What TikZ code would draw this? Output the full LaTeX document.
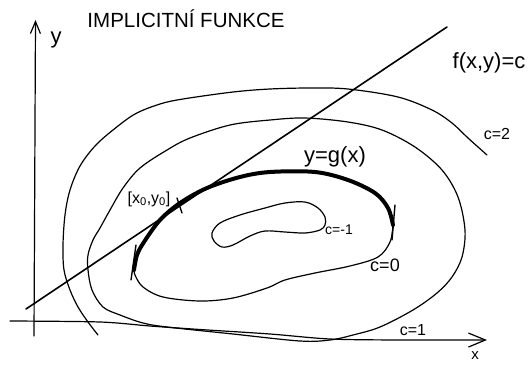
\documentclass[tikz,border=0pt]{standalone}
\usepackage{fontspec}
\setmainfont{Liberation Sans}
\usetikzlibrary{arrows.meta}
\begin{document}
\begin{tikzpicture}[x=1pt,y=-1pt,
  thinline/.style={line width=1.2pt, line cap=round, line join=round},
  midline/.style={line width=1.6pt, line cap=round},
  thickline/.style={line width=4pt, line cap=round, line join=round},
  tickline/.style={line width=1.4pt, line cap=round},
  lbl/.style={inner sep=0pt, anchor=center}]
\useasboundingbox[fill=white] (0,0) rectangle (531,365);

% axes
\coordinate (ybot) at (34,336);
\coordinate (ytop) at (35.5,20);
\draw[thinline,-{Straight Barb[length=12pt,width=10pt,line width=1.2pt]}] (ybot) -- (ytop);
\draw[thinline,-{Straight Barb[length=17pt,width=14pt,line width=1.2pt]}]
  plot[smooth,tension=0.5] coordinates {(10,321) (100,322) (150,326) (200,329.5) (270,334) (330,339) (400,340) (487,340)};

% c = 2 (outer, open)
\draw[thinline] plot[smooth,tension=0.55] coordinates {(98,335) (88,322) (78,307) (70,290) (64,270) (63,245) (65,215) (70,190) (80,166) (95,146) (113,130) (135,114) (160,104) (183,99) (233,92) (270,89) (310,88) (348,89) (398,97) (432,110) (452,123) (468,138) (487,155)};

% c = 1
\draw[thinline] plot[smooth cycle,tension=0.55] coordinates {(143,323) (120,315) (103,307) (92,290) (88,270) (88,255) (93,240) (100,228) (110,210) (123,188) (140,168) (167,150) (190,138) (230,125) (270,120) (305,118) (348,122) (382,130) (415,147) (442,170) (458,197) (465,230) (462,257) (452,277) (437,293) (413,310) (380,327) (353,335) (330,340) (300,341) (233,334) (167,327)};

% c = 0 (thin lower part)
\draw[thinline] plot[smooth,tension=0.55] coordinates {(393,225) (390,242) (378,257) (350,266) (315,273) (285,280) (267,288) (233,298) (200,301) (163,297) (143,287) (135,275) (134,268)};
% y = g(x) (thick upper part)
\draw[thickline] plot[smooth,tension=0.55] coordinates {(134,270) (137,255) (144,242) (160,220) (180,203) (207,188) (240,177) (270,172) (315,172) (348,180) (375,193) (388,208) (393,225)};

% c = -1
\draw[thinline] plot[smooth cycle,tension=0.55] coordinates {(212,233) (220,223) (240,215) (265,208) (285,203) (305,202) (318,208) (325,217) (325,225) (320,230) (305,233) (285,232) (265,231) (250,236) (233,245) (222,247) (214,241)};

% tangent line
\coordinate (t1) at (26,309);
\coordinate (t2) at (447,27);
\draw[midline] (t1) -- (t2);

% tick marks
\coordinate (ka1) at (136,245); \coordinate (ka2) at (131,280);
\coordinate (kb1) at (395,205); \coordinate (kb2) at (392,240);
\coordinate (kc1) at (177,198); \coordinate (kc2) at (182,213);
\draw[tickline] (ka1) -- (ka2);
\draw[tickline] (kb1) -- (kb2);
\draw[tickline] (kc1) -- (kc2);

% labels
\node[lbl, font=\fontsize{20.5}{22}\selectfont] (title) at (186,19) {IMPLICITNÍ FUNKCE};
\node[lbl, font=\fontsize{22}{24}\selectfont] (ylab) at (56,40) {y};
\node[lbl, font=\fontsize{15}{17}\selectfont] (xlab) at (475,356) {x};
\node[lbl, font=\fontsize{22}{24}\selectfont] (flab) at (489,63) {f(x,y)=c};
\node[lbl, font=\fontsize{22}{24}\selectfont] (glab) at (335,157) {y=g(x)};
\node[lbl, font=\fontsize{16}{18}\selectfont] (plab) at (149,199) {[x\textsubscript{0},y\textsubscript{0}]};
\node[lbl, font=\fontsize{14}{16}\selectfont] (cm1) at (339,230) {c=-1};
\node[lbl, font=\fontsize{18}{20}\selectfont] (c0) at (385,265) {c=0};
\node[lbl, font=\fontsize{16}{18}\selectfont] (c1) at (413,330) {c=1};
\node[lbl, font=\fontsize{16}{18}\selectfont] (c2) at (497,134) {c=2};
\end{tikzpicture}
\end{document}
